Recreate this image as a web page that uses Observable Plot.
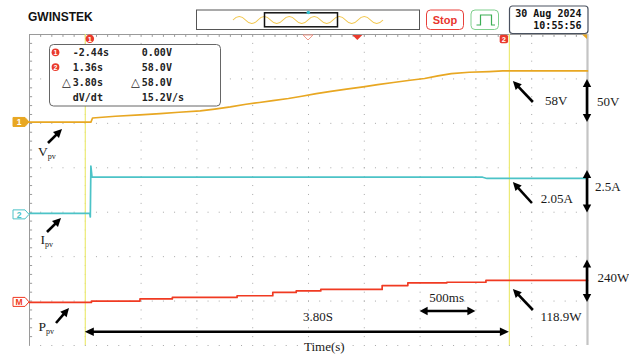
<!DOCTYPE html>
<html>
<head>
<meta charset="utf-8">
<script src="https://cdn.jsdelivr.net/npm/d3@7"></script>
<script src="https://cdn.jsdelivr.net/npm/@observablehq/plot@0.6"></script>
<style>
  html, body { margin: 0; padding: 0; background: #fff; }
  #chart svg { display: block; }
</style>
</head>
<body>
<div id="chart"></div>
<script>
// ---- Captured waveforms (time in s, relative to the trigger) ----
// CH1: PV voltage (V)
const vTime  = [-2.94, -2.39, -2.375, -2.17, -1.95, -1.77, -1.60, -1.41, -1.28, -1.14, -1.00, -0.88, -0.76, -0.62, -0.50, -0.37, -0.24, -0.10, 0.05, 0.18, 0.32, 0.47, 0.60, 0.72, 0.84, 1.00, 1.18, 1.30, 2.06];
const vVolts = [0.3, 0.3, 5.0, 7.0, 8.5, 10.0, 11.5, 13.0, 15.0, 17.5, 20.5, 22.5, 24.5, 27.0, 29.5, 32.5, 35.0, 37.5, 40.0, 42.5, 45.0, 47.5, 49.5, 52.5, 55.0, 56.5, 57.3, 58.0, 58.0];
// CH2: PV current (A)
const iTime = [-2.94, -2.40, -2.395, -2.39, -2.38, 1.12, 1.16, 2.06];
const iAmps = [0.08, 0.08, -0.12, 2.75, 2.12, 2.12, 2.05, 2.05];
// MATH: PV power (W)
const pTime  = [-2.94, -2.385, -1.95, -1.66, -1.08, -0.76, -0.55, -0.33, 0.22, 0.45, 0.80, 1.15, 2.06];
const pWatts = [0, 7, 19, 27, 36, 54, 62, 70, 91, 106, 109, 118.9, 118.9];

// Cursor readout
const cursorTimes = [-2.44, 1.36];
const readoutRows = [
  {mark: "1", a: "-2.44s", b: "0.00V"},
  {mark: "2", a: "1.36s",  b: "58.0V"},
  {mark: "△", a: "3.80s",  b: "58.0V", delta: true},
  {mark: "",  a: "dV/dt",  b: "15.2V/s"}
];

// Annotation texts
const finalLabels = ["58V", "2.05A", "118.9W"];
const scaleLabels = ["50V", "2.5A", "240W"];
const traceNames = ["V", "I", "P"];
const spanLabel = "3.80S";
const barLabel = "500ms";
const axisTitle = "Time(s)";
const dateText = ["30 Aug 2024", "10:55:56"];

// ---- Scope settings ----
const timePerDiv = 0.5;
const screenStart = -2.94;
const hDivs = 10, vDivs = 7;
const ch1  = {perDiv: 50,  offset: 5.02, color: "#e8a722"};
const ch2  = {perDiv: 2.5, offset: 2.94, color: "#4cc3c7"};
const math = {perDiv: 240, offset: 0.97, color: "#f03a22"};

const toRows = (ts, vs, ch) => ts.map((t, i) => ({t, div: ch.offset + vs[i] / ch.perDiv}));
const rowsV = toRows(vTime, vVolts, ch1);
const rowsI = toRows(iTime, iAmps, ch2);
const rowsP = toRows(pTime, pWatts, math);

const screenEnd = screenStart + hDivs * timePerDiv;
const majorT = d3.range(1, hDivs).map(k => screenStart + k * timePerDiv);
const majorY = d3.range(0, vDivs);
const minorT = d3.range(1, hDivs * 5).map(k => screenStart + k * timePerDiv / 5);
const minorY = d3.range(1, vDivs * 5).map(k => k / 5);

const W = 629, H = 356;
const mL = 29, mR = 42, mT = 34, mB = 11;
const divPx = (H - mT - mB) / vDivs;
const hDivPx = (W - mL - mR) / hDivs;

const grid = "#a8a8a8";

const svg = Plot.plot({
  width: W, height: H,
  marginLeft: mL, marginRight: mR, marginTop: mT, marginBottom: mB,
  x: {domain: [screenStart, screenEnd], axis: null},
  y: {domain: [0, vDivs], axis: null},
  style: {background: "#fff", overflow: "visible"},
  marks: [
    // dotted graticule
    Plot.ruleX(majorT, {stroke: grid, strokeDasharray: `1 ${divPx / 5 - 1}`}),
    Plot.ruleY(majorY, {stroke: grid, strokeDasharray: `1 ${hDivPx / 5 - 1}`}),
    // frame with minor ticks
    Plot.ruleX([screenStart], {stroke: "#9a9a9a"}),
    Plot.ruleY([vDivs], {stroke: "#9a9a9a"}),
    Plot.ruleX([screenEnd], {stroke: "#c4c4c4", strokeWidth: 2.2}),
    Plot.ruleY(minorY, {x1: screenStart, x2: screenStart + 0.028, stroke: "#9a9a9a"}),
    Plot.ruleX(minorT, {y1: vDivs, y2: vDivs - 0.065, stroke: "#9a9a9a"}),
    // cursors
    Plot.ruleX(cursorTimes, {stroke: "#ecea74", strokeWidth: 1.2}),
    // traces
    Plot.line(rowsV, {x: "t", y: "div", stroke: ch1.color, strokeWidth: 1.7}),
    Plot.line(rowsI, {x: "t", y: "div", stroke: ch2.color, strokeWidth: 1.7}),
    Plot.line(rowsP, {x: "t", y: "div", stroke: math.color, strokeWidth: 1.7, curve: "step-after"})
  ]
});
document.getElementById("chart").appendChild(svg);

const xs = svg.scale("x"), ys = svg.scale("y");
const X = t => xs.apply(t), Y = d => ys.apply(d);
const root = d3.select(svg).append("g").attr("text-anchor", "start");

const serif = "Liberation Serif, Times New Roman, serif";
const mono = "DejaVu Sans Mono, monospace";
const sans = "Liberation Sans, Arial, sans-serif";

// filled-head arrows
function arrow(x1, y1, x2, y2, both = false, len = 8.5, hw = 4.2, sw = 2.6) {
  const dx = x2 - x1, dy = y2 - y1, L = Math.hypot(dx, dy), ux = dx / L, uy = dy / L;
  const g = root.append("g");
  const sx1 = both ? x1 + ux * len * 0.8 : x1, sy1 = both ? y1 + uy * len * 0.8 : y1;
  g.append("line").attr("x1", sx1).attr("y1", sy1)
    .attr("x2", x2 - ux * len * 0.8).attr("y2", y2 - uy * len * 0.8)
    .attr("stroke", "#000").attr("stroke-width", sw);
  const head = (px, py, vx, vy) => g.append("polygon")
    .attr("points", [[px, py], [px - vx * len - vy * hw, py - vy * len + vx * hw], [px - vx * len + vy * hw, py - vy * len - vx * hw]].map(p => p.join(",")).join(" "))
    .attr("fill", "#000");
  head(x2, y2, ux, uy);
  if (both) head(x1, y1, -ux, -uy);
}

function text(x, y, str, {font = serif, size = 13, anchor = "start", weight = "normal", fill = "#1a1a1a"} = {}) {
  return root.append("text").attr("x", x).attr("y", y).attr("text-anchor", anchor)
    .attr("font-family", font).attr("font-size", size).attr("font-weight", weight).attr("fill", fill).text(str);
}
function subLabel(x, y, main, sub) {
  const t = root.append("text").attr("x", x).attr("y", y).attr("text-anchor", "start")
    .attr("font-family", serif).attr("font-size", 13.5).attr("fill", "#1a1a1a");
  t.append("tspan").text(main);
  t.append("tspan").attr("font-size", 8).attr("dy", 3).text(sub);
}

// ---- header chrome ----
text(28, 20.8, "GWINSTEK", {font: sans, size: 12, weight: "bold", fill: "#111"});

// memory overview
root.append("rect").attr("x", 196.5).attr("y", 10).attr("width", 223).attr("height", 19.5)
  .attr("fill", "#fff").attr("stroke", "#555").attr("stroke-width", 1);
root.append("path").attr("d", "M233,20 q6.25,-7 12.5,0" + " t12.5,0".repeat(11))
  .attr("fill", "none").attr("stroke", "#f2c64a").attr("stroke-width", 1.1);
root.append("rect").attr("x", 264.5).attr("y", 12.8).attr("width", 73).attr("height", 14)
  .attr("fill", "none").attr("stroke", "#111").attr("stroke-width", 1.5);
root.append("circle").attr("cx", 308.3).attr("cy", 12.5).attr("r", 1.8).attr("fill", "#2fc0d0");

// run state
root.append("rect").attr("x", 426.5).attr("y", 10).attr("width", 37).attr("height", 19.5).attr("rx", 4)
  .attr("fill", "#fff").attr("stroke", "#e8403a").attr("stroke-width", 1);
text(445, 23.5, "Stop", {font: sans, size: 11, weight: "bold", anchor: "middle", fill: "#e8352e"});

// trigger type
root.append("rect").attr("x", 471).attr("y", 10).attr("width", 27.5).attr("height", 19.5).attr("rx", 4)
  .attr("fill", "#fff").attr("stroke", "#7fcf8c").attr("stroke-width", 1);
root.append("path").attr("d", "M476.5,25 H480.5 V15 H491.5 V25 H495")
  .attr("fill", "none").attr("stroke", "#3cae55").attr("stroke-width", 1.2);

// date / time
root.append("rect").attr("x", 509.5).attr("y", 6).attr("width", 78.5).attr("height", 27.5).attr("rx", 3)
  .attr("fill", "#fff").attr("stroke", "#4a5260").attr("stroke-width", 1.2);
dateText.forEach((s, i) => text(581.5, 17 + i * 12, s, {font: mono, size: 10, weight: "bold", anchor: "end", fill: "#111"}));

// ---- screen markers ----
const tri = (pts, fill, stroke) => root.append("polygon").attr("points", pts.map(p => p.join(",")).join(" "))
  .attr("fill", fill).attr("stroke", stroke || "none").attr("stroke-width", 1);
tri([[303, 35], [313, 35], [308, 40]], "#fff", "#f0988a");
tri([[352.3, 35], [362.3, 35], [357.3, 40]], "#ea3a2c");
tri([[582, 34.6], [587, 34.6], [587, 39]], ch1.color);

function badge(cx, cy, txt, square = false) {
  if (square) root.append("rect").attr("x", cx - 4.2).attr("y", cy - 4.2).attr("width", 8.4).attr("height", 8.4).attr("rx", 1.8).attr("fill", "#ea3a2c");
  else root.append("circle").attr("cx", cx).attr("cy", cy).attr("r", 4.3).attr("fill", "#ea3a2c");
  text(cx, cy + 2.8, txt, {font: sans, size: 7.5, weight: "bold", anchor: "middle", fill: "#fff"});
}
badge(X(cursorTimes[0]) + 5, 38.7, "1");
badge(X(cursorTimes[1]) - 5, 39, "2", true);

// channel reference markers
function chMarker(cy, txt, color, filled) {
  root.append("path").attr("d", `M13,${cy - 4.5} H25 L29,${cy} L25,${cy + 4.5} H13 Z`)
    .attr("fill", filled ? color : "#fff").attr("stroke", color).attr("stroke-width", 1);
  text(19, cy + 3.2, txt, {font: sans, size: 8.5, weight: "bold", anchor: "middle", fill: filled ? "#fff" : color});
}
chMarker(Y(ch1.offset), "1", ch1.color, true);
chMarker(Y(ch2.offset), "2", ch2.color, false);
chMarker(Y(math.offset), "M", math.color, false);

// cursor readout box
root.append("rect").attr("x", 49.5).attr("y", 44.5).attr("width", 171).attr("height", 61.5).attr("rx", 4)
  .attr("fill", "#fff").attr("stroke", "#666").attr("stroke-width", 1);
readoutRows.forEach((r, i) => {
  const cy = 52.3 + i * 14.8;
  if (r.mark === "1" || r.mark === "2") {
    root.append("circle").attr("cx", 55.5).attr("cy", cy).attr("r", 3.9).attr("fill", "#ea3a2c");
    text(55.5, cy + 2.6, r.mark, {font: sans, size: 7, weight: "bold", anchor: "middle", fill: "#fff"});
  }
  const opts = {font: mono, size: 10, weight: "bold", fill: "#222"};
  if (r.delta) {
    const d = {font: "DejaVu Sans, sans-serif", size: 11.5, fill: "#222"};
    text(62, cy + 4.2, "△", d);
    text(131, cy + 4.2, "△", d);
  }
  text(72.8, cy + 3.8, r.a, opts);
  text(141.8, cy + 3.8, r.b, opts);
});

// ---- annotations ----
subLabel(38, 155.5, traceNames[0], "pv");
subLabel(40.5, 243.5, traceNames[1], "pv");
subLabel(38.5, 330.5, traceNames[2], "pv");
arrow(48, 143, 62, 129);
arrow(47, 232, 61, 218);
arrow(56, 323, 69, 308);

const xc2 = X(cursorTimes[1]);
arrow(xc2 + 24, 102, xc2 + 4, 81);
arrow(xc2 + 23, 203, xc2 + 4, 182);
arrow(xc2 + 24, 310, xc2 + 4, 289);
text(545, 104.5, finalLabels[0]);
text(540.7, 203, finalLabels[1]);
text(540.5, 321, finalLabels[2]);

const xe = X(screenEnd);
arrow(xe, Y(ch1.offset + 1) + 1.5, xe, Y(ch1.offset), true, 8, 4.2);
arrow(xe, Y(ch2.offset + 1), xe, Y(ch2.offset) - 2, true, 8, 4.2);
arrow(xe, Y(math.offset + 1) + 2, xe, Y(math.offset), true, 8, 4.2);
text(597, 106, scaleLabels[0]);
text(595, 191, scaleLabels[1]);
text(597.5, 282, scaleLabels[2]);

// time span between cursors and one-division scale bar
arrow(X(cursorTimes[0]), 331.7, X(cursorTimes[1]), 331.7, true, 9, 4.3);
text(303, 321, spanLabel);
arrow(X(0.56), 311, X(0.56 + timePerDiv), 311, true, 8, 4.2);
text(429.3, 302, barLabel);
text(304, 350.5, axisTitle);
</script>
</body>
</html>
